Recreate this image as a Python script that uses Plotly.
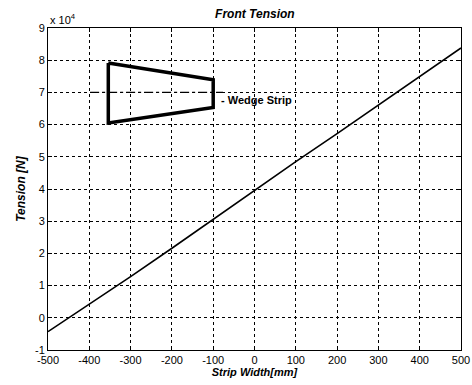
import plotly.graph_objects as go

strip_width = [-500, -400, -300, -200, -100, 0, 100, 200, 300, 400, 500]
tension = [-4300, 4200, 12800, 21600, 30600, 39700, 48500, 57200, 66000, 75000, 83800]

wedge_x = [-354, -100, -100, -354, -354]
wedge_y = [79100, 73900, 65300, 60500, 79100]
center_x = [-398, -76]
center_y = [70000, 70000]

x_ticks = [-500, -400, -300, -200, -100, 0, 100, 200, 300, 400, 500]
x_tick_text = ["-500", "-400", "-300", "-200", "-100", "0", "100", "200", "300", "400", "500"]
y_ticks = [-10000, 0, 10000, 20000, 30000, 40000, 50000, 60000, 70000, 80000, 90000]
y_tick_text = ["-1", "0", "1", "2", "3", "4", "5", "6", "7", "8", "9"]

font = "Liberation Sans, Arial, sans-serif"

fig = go.Figure()
fig.add_trace(go.Scatter(x=strip_width, y=tension, mode="lines",
                         line=dict(color="black", width=1.6), showlegend=False))
fig.add_trace(go.Scatter(x=wedge_x, y=wedge_y, mode="lines",
                         line=dict(color="black", width=3.5), showlegend=False))
fig.add_trace(go.Scatter(x=center_x, y=center_y, mode="lines",
                         line=dict(color="black", width=1.2, dash="dashdot"), showlegend=False))

fig.add_annotation(x=-85, y=67700, text="<b>- Wedge Strip</b>", showarrow=False,
                   xanchor="left", yanchor="middle", font=dict(family=font, size=11, color="black"))
fig.add_annotation(x=0, y=1, xref="paper", yref="paper", text="x 10<sup>4</sup>", showarrow=False,
                   xanchor="left", yanchor="bottom", yshift=0, font=dict(family=font, size=11, color="black"))

axis_common = dict(showgrid=True, gridcolor="black", griddash="dot", gridwidth=1,
                   showline=True, linecolor="black", linewidth=1, mirror="ticks",
                   ticks="inside", ticklen=4, tickcolor="black", zeroline=False, automargin=False,
                   tickfont=dict(family=font, size=11, color="black"))

fig.update_xaxes(range=[-500, 500], tickvals=x_ticks, ticktext=x_tick_text,
                 title=dict(text="<b><i>Strip Width[mm]</i></b>", font=dict(family=font, size=11, color="black"), standoff=2),
                 **axis_common)
fig.update_yaxes(range=[-10000, 90000], tickvals=y_ticks, ticktext=y_tick_text,
                 title=dict(text="<b><i>Tension [N]</i></b>", font=dict(family=font, size=12, color="black"), standoff=6),
                 **axis_common)

fig.update_layout(
    width=472, height=385,
    margin=dict(l=48, r=11, t=28, b=35),
    paper_bgcolor="white", plot_bgcolor="white",
    title=dict(text="<b><i>Front Tension</i></b>", x=0.54, xanchor="center", y=0.964, yanchor="middle",
               font=dict(family=font, size=12, color="black")),
)

fig.write_html("out.html", config={"displayModeBar": False},
               post_script="document.body.style.margin='0';document.body.style.overflow='hidden';")
